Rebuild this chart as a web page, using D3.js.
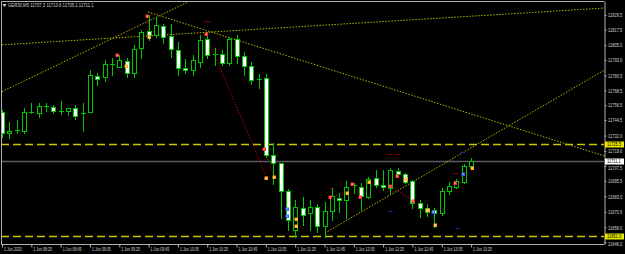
<!DOCTYPE html>
<html><head><meta charset="utf-8">
<script src="https://cdn.jsdelivr.net/npm/d3@7"></script>
<style>html,body{margin:0;padding:0;background:#000;overflow:hidden}</style>
</head><body><svg id="c" width="625" height="254"></svg>
<script>
// ---- DATA ----
const symbolTitle = "GER30,M5";
const headerValues = ["11707.3", "11713.6", "11705.1", "11711.1"];
const firstBar = "2020-06-01T08:05";
const barMinutes = 5;
const opens  = [11751.0,11733.8,11736.3,11735.9,11751.1,11750.5,11755.8,11755.1,11752.1,11751.8,11754.0,11750.4,11751.3,11780.3,11779.5,11789.6,11787.6,11792.2,11782.2,11802.4,11816.4,11813.2,11820.4,11812.3,11801.1,11786.5,11784.9,11791.6,11809.7,11798.2,11798.2,11790.3,11809.7,11796.6,11788.4,11777.5,11778.2,11716.3,11709.6,11687.3,11655.8,11673.3,11669.3,11674.1,11659.0,11671.4,11681.6,11680.0,11692.0,11690.7,11682.7,11697.5,11692.1,11689.4,11703.6,11701.0,11695.3,11677.3,11673.3,11671.9,11669.3,11687.3,11690.7,11694.8,11707.3];
const highs  = [11752.6,11743.2,11744.6,11754.2,11758.3,11758.5,11758.5,11756.7,11759.9,11754.2,11756.7,11758.0,11784.9,11782.2,11793.0,11794.6,11797.0,11794.6,11805.1,11817.2,11829.3,11827.7,11822.0,11822.0,11807.7,11793.8,11797.0,11813.2,11815.8,11802.4,11801.1,11811.8,11813.2,11799.7,11791.4,11781.7,11781.7,11726.4,11710.0,11688.9,11680.0,11682.7,11680.0,11676.8,11678.6,11689.4,11685.4,11695.3,11693.9,11693.5,11698.8,11704.2,11704.2,11705.6,11705.6,11701.5,11696.1,11680.0,11676.8,11673.3,11689.4,11694.8,11696.7,11709.1,11713.6];
const lows   = [11730.8,11730.3,11733.8,11734.1,11750.2,11746.7,11752.1,11750.5,11749.4,11748.6,11745.4,11735.7,11751.0,11772.8,11776.3,11780.9,11787.4,11779.3,11779.5,11794.4,11809.1,11811.3,11806.5,11795.6,11780.9,11782.5,11780.9,11787.6,11794.4,11788.9,11788.9,11788.9,11790.3,11780.9,11773.6,11770.4,11714.9,11692.9,11665.5,11655.8,11650.5,11659.8,11655.8,11654.4,11650.4,11663.9,11670.6,11665.5,11685.9,11671.9,11681.4,11690.7,11688.1,11685.4,11698.8,11693.5,11673.3,11666.5,11667.1,11658.5,11667.9,11684.8,11689.4,11693.5,11705.1];
const closes = [11734.1,11735.9,11736.6,11751.3,11751.4,11755.9,11756.0,11752.1,11751.9,11754.0,11748.0,11750.6,11780.9,11777.6,11789.8,11789.9,11793.0,11782.2,11801.6,11815.8,11813.2,11821.2,11811.8,11801.9,11786.3,11785.3,11793.0,11809.1,11797.0,11798.0,11790.8,11809.7,11796.4,11788.5,11776.8,11777.3,11716.3,11709.6,11686.9,11663.9,11674.1,11667.9,11674.1,11659.0,11671.4,11683.2,11680.0,11690.9,11692.2,11683.2,11696.7,11692.1,11690.3,11704.2,11701.0,11694.8,11677.3,11673.3,11670.6,11669.7,11687.3,11691.3,11695.6,11707.4,11711.1];

const timeTickValues = ["08:05","08:25","08:45","09:05","09:25","09:45","10:05","10:25","10:45","11:05","11:25","11:45","12:05","12:25","12:45","13:05","13:25"];
const timeTickLabels = ["1 Jun 2020","1 Jun 08:25","1 Jun 08:45","1 Jun 09:05","1 Jun 09:25","1 Jun 09:45","1 Jun 10:05","1 Jun 10:25","1 Jun 10:45","1 Jun 11:05","1 Jun 11:25","1 Jun 11:45","1 Jun 12:05","1 Jun 12:25","1 Jun 12:45","1 Jun 13:05","1 Jun 13:25"];
const priceTicks = [11829.5,11817.5,11805.0,11793.0,11780.5,11768.5,11756.5,11744.5,11732.0,11719.6,11707.5,11695.5,11683.0,11670.5,11658.0,11646.0];
const hLevels = [11725.5, 11651.0];
const bidPrice = 11711.1;

// trend lines: [barIndex1, price1, barIndex2, price2]
const trendLines = [
  [-0.4, 11766.3, 25.65, 11840.6],
  [-0.4, 11805.1, 82.2, 11834.9],
  [19.92, 11831.7, 82.2, 11715.5],
  [44.07, 11653.4, 82.2, 11784.9]
];
// trade history lines (dotted) : [i1,p1,i2,p2,color]
const tradeLines = [
  [19.88,11827.9,20.05,11809.9,"r"],
  [27.83,11813.2,36.08,11698.6,"r"],
  [35.88,11720.3,37.1,11698.6,"r"],
  [44.75,11682.4,47.03,11685.6,"r"],
  [47.89,11692.9,48.98,11682.4,"r"],
  [52.93,11691.3,55.94,11680.0,"r"],
  [61.94,11693.7,62.9,11694.5,"r"],
  [38.84,11672.7,38.84,11667.1,"b"],
  [58.87,11670.3,59.07,11659.8,"b"]
];
// short order dashes: [i1,i2,price,color]
const orderDashes = [
  [27.6,28.4,11824.5,"r"],[52.5,53.2,11717.1,"r"],[53.6,54.3,11717.1,"r"],
  [44.7,45.3,11689.4,"r"],[61.5,62.2,11701.5,"r"],
  [52.6,53.3,11671.1,"b"],[61.9,62.5,11657.2,"b"],[62.6,63.2,11718.5,"b"]
];
// trade markers: [barIndex, price, kind]
const markers = [
  [15.7,11797.0,"r"],[19.74,11828.5,"r"],[20.05,11811.5,"o"],[16.9,11788.1,"o"],
  [27.83,11813.6,"r"],[35.78,11721.2,"r"],[36.08,11697.8,"o"],[37.1,11698.6,"o"],
  [38.84,11672.7,"b"],[38.84,11667.1,"b"],[40.1,11664.7,"o"],[40.1,11659.0,"o"],
  [44.75,11682.7,"r"],[47.03,11685.9,"o"],[47.8,11692.7,"r"],[48.84,11682.2,"r"],
  [50.07,11694.8,"o"],[52.93,11691.5,"r"],[53.85,11699.4,"r"],[55.1,11696.7,"o"],
  [56.03,11679.2,"r"],[58.16,11671.9,"o"],[58.84,11670.6,"b"],[59.11,11659.8,"o"],
  [61.8,11693.9,"r"],[62.93,11700.7,"b"],[64.15,11706.1,"o"]
];

// ---- LAYOUT ----
const W = 625, H = 254;
const plot = {left: 1, right: 604, top: 1, bottom: 244};
const GREEN = "#00c800";
const FONT = "Liberation Sans, Arial, sans-serif";
const svg = d3.select("#c");
svg.append("rect").attr("width", W).attr("height", H).attr("fill", "#000");

const parse = d3.timeParse("%Y-%m-%dT%H:%M");
const t0 = parse(firstBar);
const times = opens.map((d, i) => d3.timeMinute.offset(t0, i * barMinutes));
const x = d3.scaleTime().domain([times[0], times[times.length - 1]]).range([2, 471.1]);
const xi = d3.scaleLinear().domain([0, opens.length - 1]).range([2, 471.1]);
const y = d3.scaleLinear().domain([11644.5, 11840.6]).range([plot.bottom, plot.top]);

svg.append("defs").append("clipPath").attr("id", "clip")
  .append("rect").attr("x", plot.left + 1).attr("y", plot.top + 1)
  .attr("width", plot.right - plot.left - 1).attr("height", plot.bottom - plot.top - 1);
const g = svg.append("g").attr("clip-path", "url(#clip)");

// horizontal level dashed lines
g.selectAll(".lvl").data(hLevels).join("line")
  .attr("x1", plot.left).attr("x2", plot.right)
  .attr("y1", d => Math.round(y(d)) + 0.5).attr("y2", d => Math.round(y(d)) + 0.5)
  .attr("stroke", "#c8c800").attr("stroke-width", 1.3).attr("stroke-dasharray", "8,4");

// bid line
g.append("line").attr("x1", plot.left).attr("x2", plot.right)
  .attr("y1", Math.round(y(bidPrice)) + 0.5).attr("y2", Math.round(y(bidPrice)) + 0.5)
  .attr("stroke", "#5c5c66").attr("stroke-width", 1.4);

// trend lines
g.selectAll(".tl").data(trendLines).join("line")
  .attr("x1", d => xi(d[0])).attr("y1", d => y(d[1]))
  .attr("x2", d => xi(d[2])).attr("y2", d => y(d[3]))
  .attr("stroke", "#b4b400").attr("stroke-width", 1).attr("stroke-dasharray", "1.5,1.5");

// trade lines
const tcol = {r: "#c00000", b: "#3050d0", o: "#ff9900"};
g.selectAll(".trl").data(tradeLines).join("line")
  .attr("x1", d => xi(d[0])).attr("y1", d => y(d[1]))
  .attr("x2", d => xi(d[2])).attr("y2", d => y(d[3]))
  .attr("stroke", d => tcol[d[4]]).attr("stroke-width", 1).attr("stroke-dasharray", "1.5,1.5");

g.selectAll(".od").data(orderDashes).join("line")
  .attr("x1", d => xi(d[0])).attr("x2", d => xi(d[1]))
  .attr("y1", d => Math.round(y(d[2])) + 0.5).attr("y2", d => Math.round(y(d[2])) + 0.5)
  .attr("stroke", d => d[3] === "r" ? "#8a0000" : "#1a2aa0").attr("stroke-width", 1);

// candles
const bars = g.selectAll(".bar").data(opens.map((o, i) => ({o, h: highs[i], l: lows[i], c: closes[i], t: times[i]})))
  .join("g");
bars.append("line")
  .attr("x1", d => Math.round(x(d.t)) + 0.5).attr("x2", d => Math.round(x(d.t)) + 0.5)
  .attr("y1", d => Math.round(y(d.h))).attr("y2", d => Math.round(y(d.l)) + 1)
  .attr("stroke", GREEN).attr("stroke-width", 1);
bars.each(function(d) {
  const cx = Math.round(x(d.t));
  const top = Math.round(y(Math.max(d.o, d.c)));
  const bot = Math.round(y(Math.min(d.o, d.c)));
  const sel = d3.select(this);
  if (bot - top < 1) {
    sel.append("line").attr("x1", cx - 2).attr("x2", cx + 3)
      .attr("y1", top + 0.5).attr("y2", top + 0.5).attr("stroke", GREEN);
  } else {
    sel.append("rect").attr("x", cx - 1.5).attr("y", top + 0.5)
      .attr("width", 4).attr("height", bot - top)
      .attr("fill", d.c < d.o ? "#ffffff" : "#000000")
      .attr("stroke", GREEN).attr("stroke-width", 1);
  }
});

// markers
const mcol = {r: "#ff2a2a", o: "#ffaa20", b: "#3a5cff"};
const mk = g.selectAll(".mk").data(markers).join("g")
  .attr("transform", d => `translate(${Math.round(xi(d[0]))},${Math.round(y(d[1]))})`);
mk.append("rect").attr("x", -1.5).attr("y", -1.5).attr("width", 3.5).attr("height", 3.5)
  .attr("fill", d => mcol[d[2]]);
mk.append("rect").attr("x", -0.5).attr("y", -0.5).attr("width", 1.2).attr("height", 1.2)
  .attr("fill", "#ffffff").attr("opacity", 0.8);

// frame
svg.append("line").attr("x1", 1.5).attr("x2", 1.5).attr("y1", 1).attr("y2", plot.bottom).attr("stroke", "#b0b0b0");
svg.append("line").attr("x1", 1).attr("x2", plot.right).attr("y1", 1.5).attr("y2", 1.5).attr("stroke", "#b0b0b0");

// right axis (labels condensed horizontally with a scale transform)
const SX = 0.74;
const FS = 5.5;
const marked = [...hLevels, bidPrice].map(v => Math.round(y(v)));
const nudge = d => {
  const yy = y(d);
  let n = 0;
  marked.forEach(m => { if (Math.abs(yy - m) < 6.5) n = yy > m ? 1.4 : -1.4; });
  return n;
};
const yAxis = d3.axisRight(y).tickValues(priceTicks).tickSize(2).tickSizeOuter(0).tickPadding(1.5)
  .tickFormat(d => d3.format(".1f")(d));
const ya = svg.append("g").attr("transform", `translate(${plot.right + 0.5},0)`).call(yAxis);
ya.select(".domain").attr("stroke", "#b0b0b0");
ya.selectAll(".tick line").attr("stroke", "#b0b0b0");
ya.selectAll(".tick text").attr("fill", "#d0d0d0").attr("font-family", FONT)
  .attr("font-size", FS).attr("x", 3.5 / SX).attr("y", d => nudge(d)).attr("transform", `scale(${SX},1)`);

// highlighted price labels
const hl = [...hLevels.map(v => ({v, bg: "#e6e600"})), {v: bidPrice, bg: "#ffffff"}];
const hg = svg.selectAll(".hl").data(hl).join("g")
  .attr("transform", d => `translate(${plot.right + 1},${Math.round(y(d.v))})`);
hg.append("rect").attr("x", 0).attr("y", -2.5).attr("width", 19).attr("height", 6).attr("fill", d => d.bg);
hg.append("text").attr("x", 2 / 0.8).attr("y", 2.3).attr("transform", "scale(0.8,1)")
  .text(d => d3.format(".1f")(d.v))
  .attr("fill", "#000").attr("font-family", FONT).attr("font-size", 5);

// bottom axis
const SXB = 0.6;
const tickDates = timeTickValues.map(s => parse("2020-06-01T" + s));
const xAxis = d3.axisBottom(x).tickValues(tickDates).tickSize(3).tickSizeOuter(0)
  .tickFormat((d, i) => timeTickLabels[i]);
const xa = svg.append("g").attr("transform", `translate(0,${plot.bottom + 0.5})`).call(xAxis);
xa.select(".domain").attr("d", `M1,0H${plot.right + 0.5}`).attr("stroke", "#b0b0b0");
xa.selectAll(".tick line").attr("stroke", "#b0b0b0");
xa.selectAll(".tick text").attr("fill", "#d0d0d0").attr("font-family", FONT)
  .attr("font-size", 6).attr("text-anchor", "start").attr("x", 1.5 / SXB).attr("y", 2).attr("dy", "0.71em")
  .attr("transform", `scale(${SXB},1)`);

// header
svg.append("path").attr("d", "M2.5,4 L6.5,4 L4.5,7 Z").attr("fill", "#d0d0d0");
svg.append("text").attr("x", 8 / 0.71).attr("y", 7.5).attr("transform", "scale(0.71,1)")
  .text(symbolTitle + "  " + headerValues.join(" "))
  .attr("fill", "#d0d0d0").attr("font-family", FONT).attr("font-size", 6);
</script></body></html>
